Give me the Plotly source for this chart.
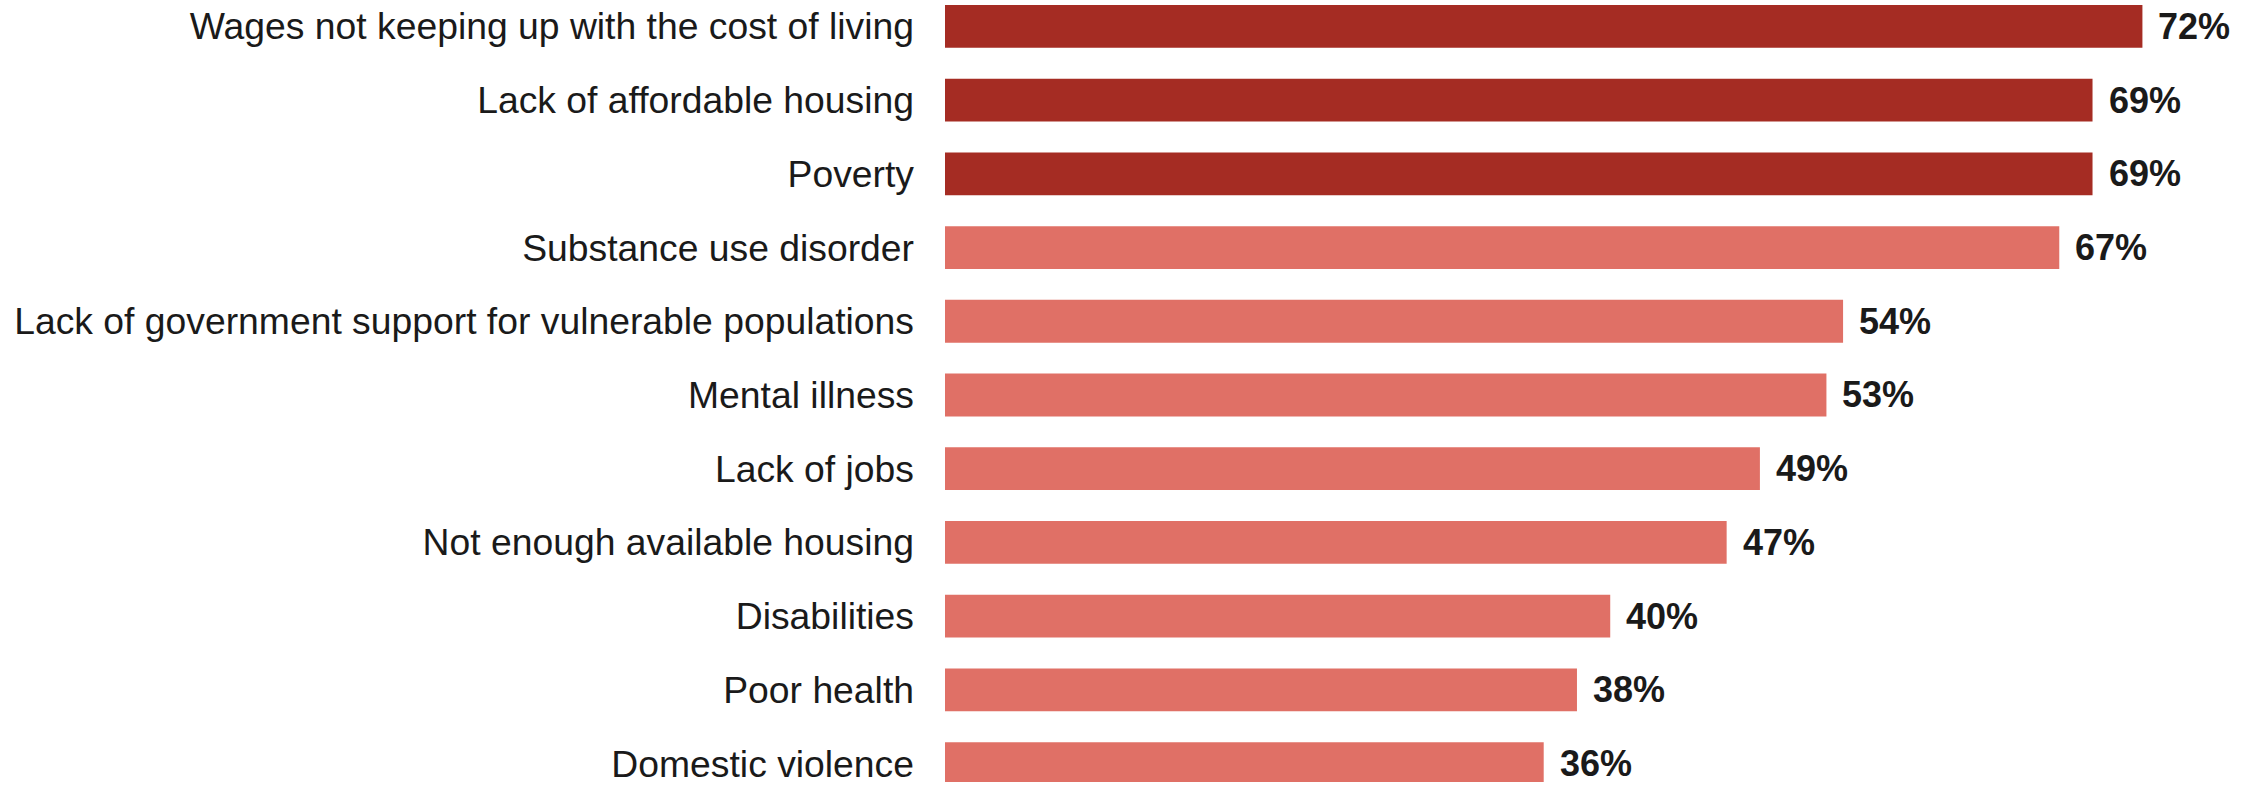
import plotly.graph_objects as go

categories = [
    "Wages not keeping up with the cost of living",
    "Lack of affordable housing",
    "Poverty",
    "Substance use disorder",
    "Lack of government support for vulnerable populations",
    "Mental illness",
    "Lack of jobs",
    "Not enough available housing",
    "Disabilities",
    "Poor health",
    "Domestic violence",
]
values = [72, 69, 69, 67, 54, 53, 49, 47, 40, 38, 36]
highlight = [True, True, True, False, False, False, False, False, False, False, False]

dark = "#A52C23"
light = "#E07066"
colors = [dark if h else light for h in highlight]
positions = list(range(len(categories)))

fig = go.Figure()
fig.add_trace(go.Bar(
    x=values, y=positions, orientation="h",
    marker=dict(color=colors, line=dict(width=0)),
    width=0.581,
    hoverinfo="skip",
))

for v, p in zip(values, positions):
    fig.add_annotation(
        x=v, y=p, text=f"<b>{v}%</b>", showarrow=False,
        xanchor="left", yanchor="middle", xshift=14,
        font=dict(family="Liberation Sans, Arial, sans-serif", size=36, color="#1a1a1a"),
    )

fig.update_layout(
    width=2260, height=785,
    margin=dict(l=945, r=0, t=0, b=0),
    paper_bgcolor="white", plot_bgcolor="white",
    showlegend=False,
    font=dict(family="Liberation Sans, Arial, sans-serif", size=37, color="#1a1a1a"),
    xaxis=dict(range=[0, 79.07], visible=False, fixedrange=True),
    yaxis=dict(
        range=[10.25, -0.358],
        tickmode="array", tickvals=positions, ticktext=categories,
        showgrid=False, zeroline=False, showline=False, ticks="",
        ticklabelstandoff=30,
        ticklabeloverflow="allow",
        tickfont=dict(size=37.3, color="#1a1a1a"),
        fixedrange=True,
    ),
)

fig.write_html(
    "out.html",
    config={"displayModeBar": False},
    post_script="document.body.style.margin='0';document.body.style.overflow='hidden';",
)
